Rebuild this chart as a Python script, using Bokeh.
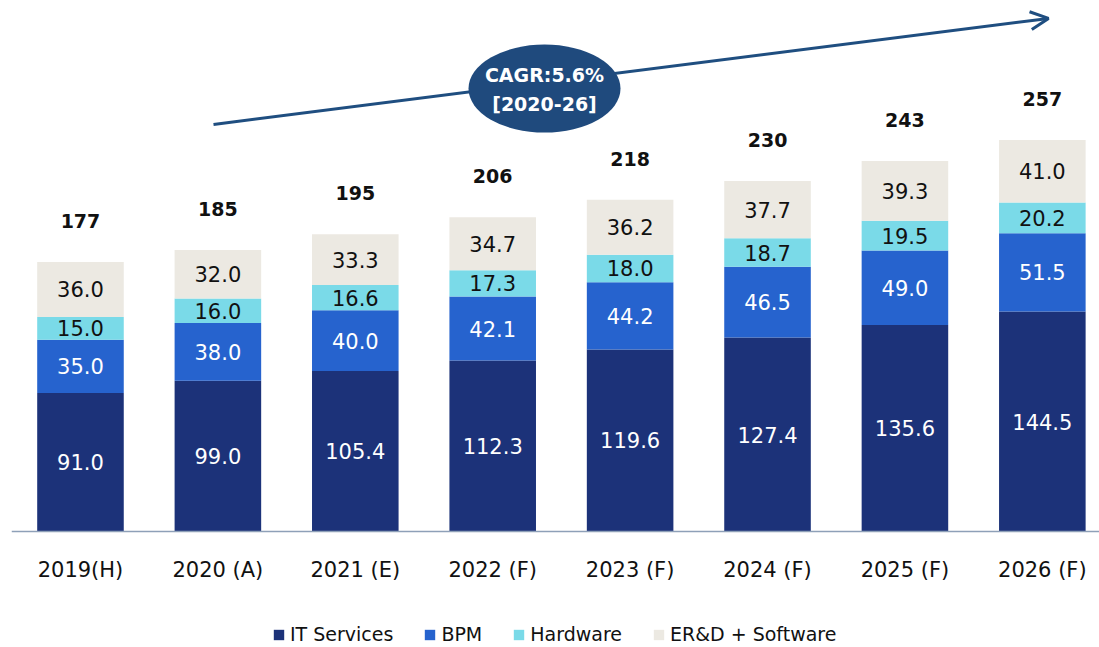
from bokeh.plotting import figure
from bokeh.models import ColumnDataSource, Range1d, FixedTicker, Arrow, OpenHead, Legend, LegendItem
from bokeh.core.properties import value
from bokeh.embed import file_html
from bokeh.resources import INLINE

categories = ["2019(H)", "2020 (A)", "2021 (E)", "2022 (F)", "2023 (F)", "2024 (F)", "2025 (F)", "2026 (F)"]
it_services = [91.0, 99.0, 105.4, 112.3, 119.6, 127.4, 135.6, 144.5]
bpm = [35.0, 38.0, 40.0, 42.1, 44.2, 46.5, 49.0, 51.5]
hardware = [15.0, 16.0, 16.6, 17.3, 18.0, 18.7, 19.5, 20.2]
erd_software = [36.0, 32.0, 33.3, 34.7, 36.2, 37.7, 39.3, 41.0]
totals = [177, 185, 195, 206, 218, 230, 243, 257]
series_names = ["IT Services", "BPM", "Hardware", "ER&D + Software"]
colors = ["#1c3279", "#2663ce", "#7adae8", "#ece9e2"]
label_colors = ["white", "white", "#111111", "#111111"]
cagr_text = ["CAGR:5.6%", "[2020-26]"]

FONT = "DejaVu Sans"

p = figure(frame_width=1088, frame_height=639, output_backend="svg", toolbar_location=None,
           x_range=Range1d(-0.502, 7.416), y_range=Range1d(-76.2, 343.6),
           min_border_left=11, min_border_right=0, min_border_top=8, min_border_bottom=0)
p.outline_line_color = None
p.grid.visible = False
p.yaxis.visible = False
p.background_fill_color = "white"

xs = list(range(len(categories)))
series = [it_services, bpm, hardware, erd_software]
bottom = [0.0] * len(categories)
renderers = []
for name, vals, col, lcol in zip(series_names, series, colors, label_colors):
    top = [b + v for b, v in zip(bottom, vals)]
    mid = [(b + t) / 2 for b, t in zip(bottom, top)]
    src = ColumnDataSource(dict(x=xs, bottom=bottom, top=top, mid=mid,
                                lab=["%.1f" % v for v in vals]))
    r = p.vbar(x="x", bottom="bottom", top="top", width=0.63, source=src,
               fill_color=col, line_color=None)
    renderers.append((name, r))
    p.text(x="x", y="mid", text="lab", source=src, text_align="center",
           text_baseline="middle", text_color=lcol, text_font=value(FONT),
           text_font_size="21px")
    bottom = top

tsrc = ColumnDataSource(dict(x=xs, y=[sum(v) for v in zip(*series)], lab=[str(t) for t in totals]))
p.text(x="x", y="y", text="lab", source=tsrc, text_align="center", text_baseline="middle",
       y_offset=-41, text_color="#111111", text_font=value(FONT), text_font_style="bold",
       text_font_size="19px")

# CAGR arrow and ellipse
arrow = Arrow(x_start=0.968, y_start=267.4, x_end=7.045, y_end=337.1,
              line_color="#1f4e80", line_width=3,
              end=OpenHead(size=18, line_color="#1f4e80", line_width=3), level="underlay")
p.add_layout(arrow)
p.ellipse(x=[3.377], y=[291.0], width=152, height=88, width_units="screen",
          height_units="screen", fill_color="#1f4a7d", line_color=None)
p.text(x=[3.377, 3.377], y=[291.0, 291.0], text=cagr_text, y_offset=[-14, 15],
       text_align="center", text_baseline="middle", text_color="white",
       text_font=value(FONT), text_font_style="bold", text_font_size="19px")

# x axis (drawn at y = 0 inside the frame)
p.xaxis.fixed_location = 0
p.xaxis.ticker = FixedTicker(ticks=xs)
p.xaxis.major_label_overrides = {i: c for i, c in enumerate(categories)}
p.xaxis.major_tick_line_color = None
p.xaxis.minor_tick_line_color = None
p.xaxis.major_tick_out = 0
p.xaxis.major_label_standoff = 26
p.xaxis.axis_line_color = "#8ea0b8"
p.xaxis.axis_line_width = 1.5
p.xaxis.major_label_text_font = FONT
p.xaxis.major_label_text_font_size = "21px"
p.xaxis.major_label_text_color = "#111111"

legend = Legend(items=[LegendItem(label=n, renderers=[r]) for n, r in renderers],
                orientation="horizontal", location=(261, 2),
                label_text_font=FONT, label_text_font_size="19px", label_text_color="#111111",
                glyph_width=13, glyph_height=13, label_standoff=5, spacing=30,
                border_line_color=None, background_fill_alpha=0, padding=0, margin=0)
p.add_layout(legend)

open("out.html", "w").write(file_html(p, INLINE))
